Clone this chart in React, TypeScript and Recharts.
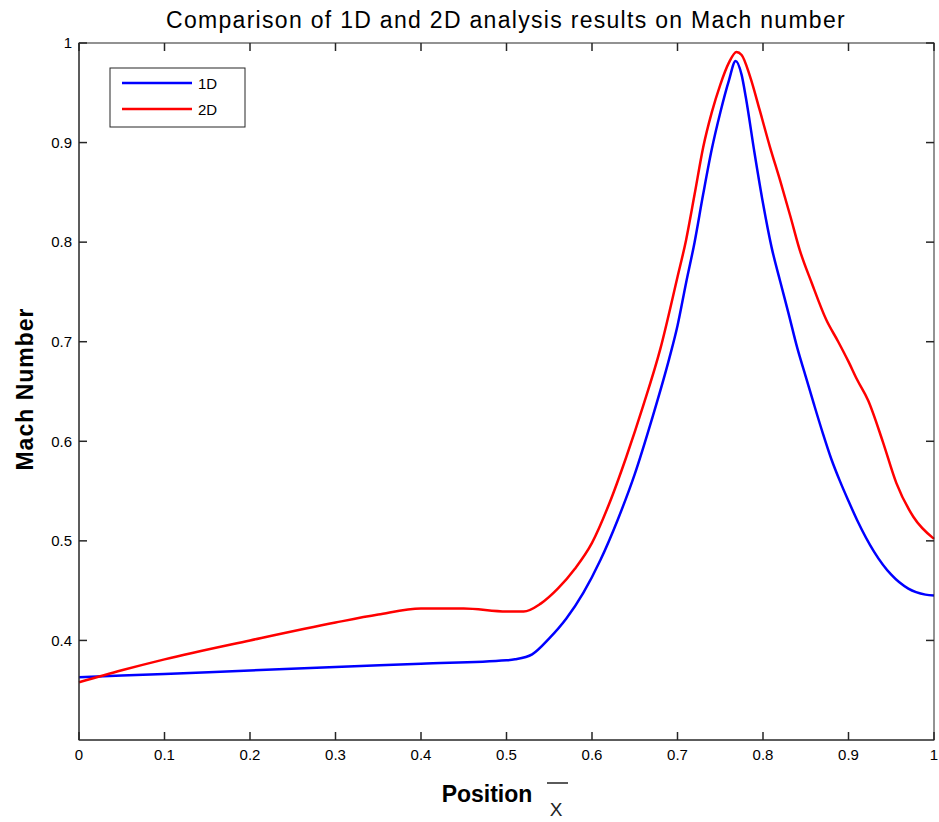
import { LineChart, Line, XAxis, YAxis } from "recharts";

// 1D analysis (blue)
const x1D = [0, 0.1, 0.2, 0.3, 0.4, 0.5, 0.51, 0.53, 0.55, 0.57, 0.59, 0.61, 0.63, 0.65, 0.67, 0.69, 0.7, 0.71, 0.72, 0.73, 0.74, 0.75, 0.76, 0.768, 0.775, 0.78, 0.79, 0.8, 0.81, 0.82, 0.83, 0.84, 0.85, 0.86, 0.87, 0.88, 0.89, 0.9, 0.91, 0.93, 0.95, 0.97, 0.99, 1.0];
const mach1D = [0.363, 0.3664, 0.3698, 0.3732, 0.3766, 0.38, 0.381, 0.386, 0.402, 0.422, 0.448, 0.481, 0.521, 0.567, 0.622, 0.682, 0.716, 0.759, 0.8, 0.848, 0.893, 0.93, 0.962, 0.982, 0.968, 0.945, 0.89, 0.839, 0.795, 0.761, 0.728, 0.694, 0.665, 0.636, 0.608, 0.582, 0.56, 0.54, 0.521, 0.489, 0.466, 0.452, 0.446, 0.445];

// 2D analysis (red)
const x2D = [0, 0.05, 0.1, 0.2, 0.3, 0.35, 0.4, 0.45, 0.5, 0.52, 0.54, 0.56, 0.58, 0.6, 0.62, 0.64, 0.66, 0.68, 0.7, 0.71, 0.72, 0.73, 0.74, 0.75, 0.76, 0.769, 0.775, 0.785, 0.796, 0.808, 0.82, 0.832, 0.843, 0.857, 0.874, 0.888, 0.9, 0.91, 0.923, 0.94, 0.956, 0.976, 1.0];
const mach2D = [0.358, 0.37, 0.381, 0.4, 0.418, 0.426, 0.432, 0.432, 0.429, 0.429, 0.437, 0.452, 0.472, 0.498, 0.537, 0.584, 0.636, 0.693, 0.765, 0.802, 0.848, 0.895, 0.93, 0.958, 0.98, 0.991, 0.988, 0.966, 0.933, 0.896, 0.862, 0.826, 0.792, 0.759, 0.722, 0.7, 0.68, 0.662, 0.641, 0.6, 0.558, 0.524, 0.502];

const xTicks = [0, 0.1, 0.2, 0.3, 0.4, 0.5, 0.6, 0.7, 0.8, 0.9, 1];
const yTicks = [0.4, 0.5, 0.6, 0.7, 0.8, 0.9, 1];

const data1D = x1D.map((x, i) => ({ x, v: mach1D[i] }));
const data2D = x2D.map((x, i) => ({ x, v: mach2D[i] }));

const W = 939;
const H = 822;
const PLOT_TOP = 43;
const PLOT_LEFT = 79;
const PLOT_RIGHT = 934;
const PLOT_BOTTOM = 740;
const Y_MIN = 0.3;
const Y_MAX = 1;
const FONT = "'Liberation Sans', Arial, sans-serif";
const AXIS = "#262626";
const TICK_LEN = 8;

const tickStyle = { fontSize: 15, fontFamily: FONT, fill: "#000" };

// pixel position of a tick value along the box edges (for the inward tick marks)
const tx = (v: number) => PLOT_LEFT + v * (PLOT_RIGHT - PLOT_LEFT);
const ty = (v: number) => PLOT_BOTTOM - ((v - Y_MIN) / (Y_MAX - Y_MIN)) * (PLOT_BOTTOM - PLOT_TOP);

export default function App() {
  return (
    <div style={{ position: "absolute", left: 0, top: 0, width: W, height: H, background: "#fff" }}>
      <LineChart
        width={W}
        height={H}
        margin={{ top: PLOT_TOP, right: W - PLOT_RIGHT, bottom: 32, left: 0 }}
      >
        <XAxis
          dataKey="x"
          type="number"
          domain={[0, 1]}
          ticks={xTicks}
          tickSize={0}
          tickMargin={9}
          tickLine={false}
          height={H - PLOT_BOTTOM - 32}
          axisLine={{ stroke: AXIS }}
          tick={tickStyle}
          interval={0}
          allowDuplicatedCategory={false}
        />
        <YAxis
          type="number"
          domain={[Y_MIN, Y_MAX]}
          ticks={yTicks}
          tickSize={0}
          tickMargin={7}
          tickLine={false}
          width={PLOT_LEFT}
          axisLine={{ stroke: AXIS }}
          tick={tickStyle}
          interval={0}
        />
        <Line data={data1D} type="monotone" dataKey="v" name="1D" stroke="#0000ff" strokeWidth={2.5} dot={false} isAnimationActive={false} />
        <Line data={data2D} type="monotone" dataKey="v" name="2D" stroke="#ff0000" strokeWidth={2.5} dot={false} isAnimationActive={false} />
      </LineChart>
      <svg width={W} height={H} style={{ position: "absolute", left: 0, top: 0, pointerEvents: "none" }}>
        {/* box and inward ticks, MATLAB style */}
        <rect
          x={PLOT_LEFT}
          y={PLOT_TOP}
          width={PLOT_RIGHT - PLOT_LEFT}
          height={PLOT_BOTTOM - PLOT_TOP}
          fill="none"
          stroke={AXIS}
        />
        {xTicks.map((t) => (
          <g key={"x" + t}>
            <line x1={tx(t)} x2={tx(t)} y1={PLOT_BOTTOM} y2={PLOT_BOTTOM - TICK_LEN} stroke={AXIS} strokeWidth={1.5} />
            <line x1={tx(t)} x2={tx(t)} y1={PLOT_TOP} y2={PLOT_TOP + TICK_LEN} stroke={AXIS} strokeWidth={1.5} />
          </g>
        ))}
        {yTicks.map((t) => (
          <g key={"y" + t}>
            <line x1={PLOT_LEFT} x2={PLOT_LEFT + TICK_LEN} y1={ty(t)} y2={ty(t)} stroke={AXIS} strokeWidth={1.5} />
            <line x1={PLOT_RIGHT} x2={PLOT_RIGHT - TICK_LEN} y1={ty(t)} y2={ty(t)} stroke={AXIS} strokeWidth={1.5} />
          </g>
        ))}
        <text x={506} y={28} textAnchor="middle" fontSize={23} letterSpacing={1.3} fontFamily={FONT} fill="#000">
          Comparison of 1D and 2D analysis results on Mach number
        </text>
        <text
          transform="translate(33 389) rotate(-90)"
          textAnchor="middle"
          fontSize={23}
          letterSpacing={1}
          fontWeight="bold"
          fontFamily={FONT}
          fill="#000"
        >
          Mach Number
        </text>
        <text x={487} y={802} textAnchor="middle" fontSize={23} fontWeight="bold" fontFamily={FONT} fill="#000">
          Position
        </text>
        <text x={556} y={816} textAnchor="middle" fontSize={19} fontFamily={FONT} fill="#222">
          X
        </text>
        <line x1={547} x2={568} y1={783} y2={783} stroke="#000" strokeWidth={1.3} />
        <rect x={110} y={68} width={135} height={59} fill="#fff" stroke={AXIS} />
        <line x1={122} x2={192} y1={83} y2={83} stroke="#0000ff" strokeWidth={2.5} />
        <line x1={122} x2={192} y1={109} y2={109} stroke="#ff0000" strokeWidth={2.5} />
        <text x={198} y={89} fontSize={15} fontFamily={FONT} fill="#000">1D</text>
        <text x={198} y={115} fontSize={15} fontFamily={FONT} fill="#000">2D</text>
      </svg>
    </div>
  );
}
